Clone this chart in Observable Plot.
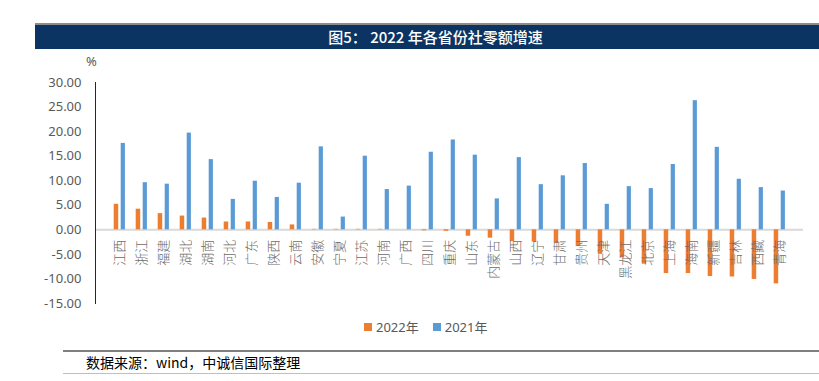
<!DOCTYPE html>
<html>
<head>
<meta charset="utf-8">
<script src="https://cdn.jsdelivr.net/npm/d3@7"></script>
<script src="https://cdn.jsdelivr.net/npm/@observablehq/plot@0.6"></script>
<style>
  body { margin: 0; background: #fff; }
  #wrap { position: relative; width: 819px; height: 381px; background: #fff; overflow: hidden; font-family: "Noto Sans", "Noto Sans CJK SC", sans-serif; }
  #title { position: absolute; left: 35px; top: 23px; width: 777px; height: 24px; background: #0c3463; border-top: 2px solid #8c8c8c; color: #fff; font: 500 15px "Noto Sans CJK SC", sans-serif; line-height: 24px; text-align: center; box-sizing: content-box; padding-left: 12px; }
  #unit { position: absolute; left: 86px; top: 52px; font-size: 13px; color: #595959; }
  #chart { position: absolute; left: 0; top: 50px; }
  #legend { position: absolute; left: 364px; top: 317px; font: 13px "Noto Sans", "Noto Sans CJK SC", sans-serif; color: #595959; display: flex; align-items: center; }
  #legend .sw { width: 8px; height: 8px; display: inline-block; margin-right: 4px; }
  #legend .item { display: flex; align-items: center; margin-right: 14px; }
  #src { position: absolute; left: 63px; top: 350px; width: 756px; height: 21px; border-top: 2px solid #7f7f7f; border-bottom: 1px solid #bfbfbf; font: 14px "Noto Sans CJK SC", serif; color: #000; line-height: 21px; padding-left: 23px; box-sizing: content-box; }
</style>
</head>
<body>
<div id="wrap">
  <div id="title">图5： 2022 年各省份社零额增速</div>
  <div id="unit">%</div>
  <div id="chart"></div>
  <div id="legend"></div>
  <div id="src">数据来源：wind，中诚信国际整理</div>
</div>
<script>
const provinces = ["江西","浙江","福建","湖北","湖南","河北","广东","陕西","云南","安徽","宁夏","江苏","河南","广西","四川","重庆","山东","内蒙古","山西","辽宁","甘肃","贵州","天津","黑龙江","北京","上海","海南","新疆","吉林","西藏","青海"];
const growth2022 = [5.2,4.2,3.3,2.8,2.4,1.6,1.6,1.5,1.0,0.1,0.1,0.1,0.1,0.0,-0.2,-0.3,-1.3,-1.7,-2.4,-2.5,-2.7,-3.4,-5.0,-5.7,-7.0,-8.9,-8.9,-9.5,-9.6,-10.1,-11.0];
const growth2021 = [17.6,9.6,9.3,19.7,14.3,6.2,9.9,6.6,9.5,16.9,2.6,15.0,8.2,8.9,15.8,18.3,15.2,6.3,14.7,9.2,11.0,13.5,5.2,8.8,8.4,13.3,26.3,16.8,10.3,8.6,7.9];
const seriesNames = ["2022年","2021年"];
const seriesColors = ["#ed7d31","#5b9bd5"];
const yTicks = [-15,-10,-5,0,5,10,15,20,25,30];

const rows2022 = provinces.map((p, i) => ({province: p, value: growth2022[i]}));
const rows2021 = provinces.map((p, i) => ({province: p, value: growth2021[i]}));

const chart = Plot.plot({
  width: 819,
  height: 290,
  marginLeft: 95,
  marginRight: 16,
  marginTop: 32,
  marginBottom: 37,
  style: {fontFamily: "'Noto Sans', 'Noto Sans CJK SC', sans-serif", fontSize: "13px", color: "#595959", background: "transparent"},
  x: {domain: provinces, padding: 0, axis: null},
  y: {domain: [-15, 30], ticks: yTicks, label: null, tickFormat: d => d.toFixed(2)},
  marks: [
    Plot.ruleY([0], {stroke: "#d9d9d9", strokeWidth: 2}),
    Plot.barY(rows2022, {x: "province", y: "value", fill: seriesColors[0], insetLeft: 5.7, insetRight: 11.8}),
    Plot.barY(rows2021, {x: "province", y: "value", fill: seriesColors[1], insetLeft: 12.7, insetRight: 5.1}),
    Plot.axisY({ticks: yTicks, tickSize: 0, tickPadding: 14, label: null, tickFormat: d => d.toFixed(2), fill: "#595959", fontSize: 13}),
    Plot.frame({anchor: "left", stroke: "#262626"}),
    Plot.text(provinces, {x: d => d, y: 0, text: d => d, rotate: -90, textAnchor: "end", dy: 10, fill: "#6b6b6b", fontSize: 13, fontFamily: "'Noto Sans CJK SC', sans-serif", fontWeight: 300})
  ]
});
document.getElementById("chart").appendChild(chart);

const legend = document.getElementById("legend");
seriesNames.forEach((name, i) => {
  const item = document.createElement("div");
  item.className = "item";
  item.innerHTML = `<span class="sw" style="background:${seriesColors[i]}"></span><span>${name}</span>`;
  legend.appendChild(item);
});
</script>
</body>
</html>
